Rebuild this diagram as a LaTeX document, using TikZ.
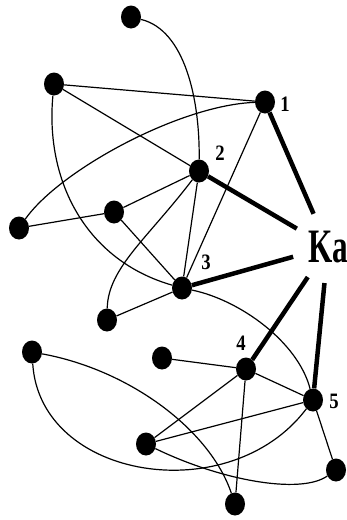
\documentclass[tikz,border=0pt]{standalone}
\usepackage{fontspec}
\setmainfont{Liberation Serif}
\usetikzlibrary{shapes.geometric}
\begin{document}
\begin{tikzpicture}[x=1pt,y=-1pt,
  vert/.style={ellipse,fill=black,minimum width=20pt,minimum height=23pt,inner sep=0pt},
  edge/.style={line width=1.2pt},
  bond/.style={line width=4.5pt},
  num/.style={font=\bfseries\fontsize{22}{22}\selectfont,inner sep=0pt}]
\useasboundingbox (0,0) rectangle (347,520);

% vertices
\node[vert] (a)  at (131,17)  {};
\node[vert] (b)  at (54,84)   {};
\node[vert] (n1) at (265,102) {};
\node[vert] (n2) at (199,171) {};
\node[vert] (c)  at (114,212) {};
\node[vert] (d)  at (19,228)  {};
\node[vert] (n3) at (182,288) {};
\node[vert] (e)  at (107,320) {};
\node[vert] (f)  at (32,352)  {};
\node[vert] (g)  at (162,358) {};
\node[vert] (n4) at (246,369) {};
\node[vert] (n5) at (313,400) {};
\node[vert] (h)  at (146,444) {};
\node[vert] (i)  at (336,470) {};
\node[vert] (j)  at (235,504) {};

% central label
\node[circle,minimum size=72pt,inner sep=0pt,font=\bfseries\fontsize{48}{48}\selectfont]
  (ka) at (328,247) {\scalebox{0.65}[1]{Ka}};

% vertex numbers
\node[num] (l1) at (285,104) {\scalebox{0.85}[1]{1}};
\node[num] (l2) at (220,153) {\scalebox{0.85}[1]{2}};
\node[num] (l3) at (206,262) {\scalebox{0.85}[1]{3}};
\node[num] (l4) at (241,343) {\scalebox{0.85}[1]{4}};
\node[num] (l5) at (334,401) {\scalebox{0.85}[1]{5}};

% straight thin edges
\draw[edge] (b) -- (n1);
\draw[edge] (b) -- (n2);
\draw[edge] (n1) -- (n3);
\draw[edge] (d) -- (c);
\draw[edge] (c) -- (n2);
\draw[edge] (c) -- (n3);
\draw[edge] (n2) -- (n3);
\draw[edge] (e) -- (n3);
\draw[edge] (g) -- (n4);
\draw[edge] (n4) -- (n5);
\draw[edge] (n4) -- (h);
\draw[edge] (n4) -- (j);
\draw[edge] (n5) -- (h);
\draw[edge] (n5) -- (i);

% curved thin edges
\draw[edge] (a) .. controls (185,30) and (200,100) .. (n2);
\draw[edge] (b) .. controls (45,180) and (85,260) .. (n3);
\draw[edge] (n1) .. controls (180,105) and (60,170) .. (d);
\draw[edge] (n2) .. controls (148,238) and (108,268) .. (e);
\draw[edge] (n3) .. controls (240,300) and (298,342) .. (n5);
\draw[edge] (f) .. controls (40,480) and (230,510) .. (n5);
\draw[edge] (f) .. controls (130,370) and (210,430) .. (j);
\draw[edge] (h) .. controls (220,480) and (300,495) .. (i);

% thick bonds to the centre
\foreach \v in {n1,n2,n3,n4,n5}
  \draw[bond] (\v) -- (ka);
\end{tikzpicture}
\end{document}
